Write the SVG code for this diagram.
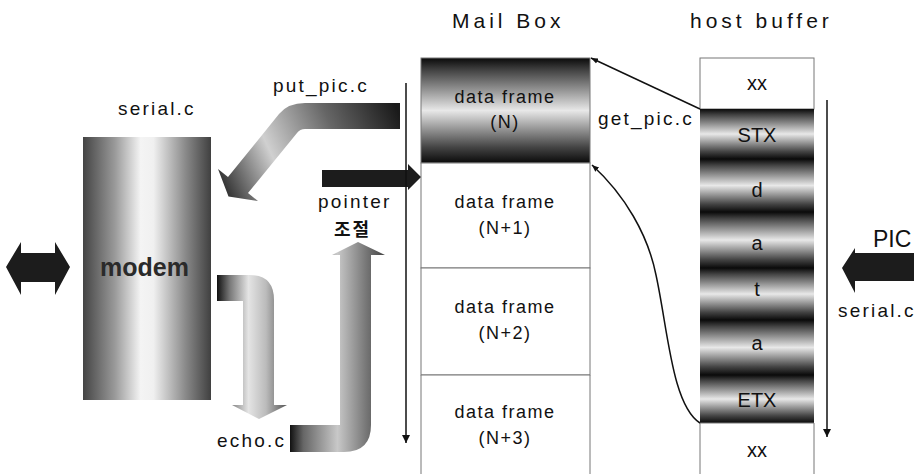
<svg xmlns="http://www.w3.org/2000/svg" width="914" height="474" viewBox="0 0 914 474">
<defs>
<linearGradient id="band" x1="0" y1="0" x2="0" y2="1">
<stop offset="0" stop-color="#0a0a0a"/>
<stop offset="0.12" stop-color="#444"/>
<stop offset="0.5" stop-color="#e8e8e8"/>
<stop offset="0.85" stop-color="#444"/>
<stop offset="1" stop-color="#0a0a0a"/>
</linearGradient>
<linearGradient id="cyl" x1="0" y1="0" x2="1" y2="0">
<stop offset="0" stop-color="#444"/>
<stop offset="0.25" stop-color="#9a9a9a"/>
<stop offset="0.45" stop-color="#f4f4f4"/>
<stop offset="0.55" stop-color="#f0f0f0"/>
<stop offset="0.8" stop-color="#8a8a8a"/>
<stop offset="1" stop-color="#404040"/>
</linearGradient>
<linearGradient id="gPut" gradientUnits="userSpaceOnUse" x1="400" y1="116" x2="228" y2="196">
<stop offset="0" stop-color="#1a1a1a"/>
<stop offset="0.35" stop-color="#666"/>
<stop offset="0.7" stop-color="#d0d0d0"/>
<stop offset="1" stop-color="#333"/>
</linearGradient>
<linearGradient id="gEcho" gradientUnits="userSpaceOnUse" x1="217" y1="0" x2="287" y2="0">
<stop offset="0" stop-color="#111"/>
<stop offset="0.18" stop-color="#777"/>
<stop offset="0.45" stop-color="#e4e4e4"/>
<stop offset="0.7" stop-color="#bbb"/>
<stop offset="1" stop-color="#555"/>
</linearGradient>
<linearGradient id="gJ" gradientUnits="userSpaceOnUse" x1="290" y1="0" x2="385" y2="0">
<stop offset="0" stop-color="#111"/>
<stop offset="0.14" stop-color="#666"/>
<stop offset="0.5" stop-color="#c8c8c8"/>
<stop offset="0.8" stop-color="#777"/>
<stop offset="1" stop-color="#444"/>
</linearGradient>
<marker id="ah" viewBox="0 0 10 10" refX="10" refY="5" markerWidth="7" markerHeight="7" orient="auto" markerUnits="userSpaceOnUse">
<path d="M0,1 L10,5 L0,9 Z" fill="#111"/>
</marker>
<marker id="ahv" viewBox="0 0 10 10" refX="10" refY="5" markerWidth="8" markerHeight="12" orient="auto" markerUnits="userSpaceOnUse">
<path d="M0,0 L10,5 L0,10 Z" fill="#111"/>
</marker>
</defs>
<style>
text{font-family:"Liberation Sans",Arial,sans-serif;fill:#111}
.title{font-size:21px;letter-spacing:4px}
.lbl{font-size:19px;letter-spacing:2.2px}
.df{font-size:18px;letter-spacing:1.5px;text-anchor:middle}
.cell{font-size:20px;text-anchor:middle}
.box{stroke:#777;stroke-width:1}
.dark{fill:#1c1c1c}
.line{stroke:#111;stroke-width:1.5;fill:none}
</style>
<rect width="914" height="474" fill="#fff"/>

<text class="title" x="452" y="28">Mail Box</text>
<text class="title" x="690" y="28">host buffer</text>

<g id="mailbox">
<rect x="421" y="58" width="169" height="105" fill="url(#band)" class="box"/>
<rect x="421" y="163" width="169" height="105" fill="#fff" class="box"/>
<rect x="421" y="268" width="169" height="107" fill="#fff" class="box"/>
<path d="M421,474 L421,375 L590,375 L590,474" fill="#fff" class="box"/>
<text class="df" x="505" y="103">data frame</text>
<text class="df" x="505" y="128">(N)</text>
<text class="df" x="505" y="208">data frame</text>
<text class="df" x="505" y="234">(N+1)</text>
<text class="df" x="505" y="313">data frame</text>
<text class="df" x="505" y="339">(N+2)</text>
<text class="df" x="505" y="418">data frame</text>
<text class="df" x="505" y="444">(N+3)</text>
</g>

<g id="hostbuffer">
<rect x="700" y="58" width="114" height="51" fill="#fff" class="box"/>
<rect x="700" y="109" width="114" height="50" fill="url(#band)"/>
<rect x="700" y="159" width="114" height="53" fill="url(#band)"/>
<rect x="700" y="212" width="114" height="56" fill="url(#band)"/>
<rect x="700" y="268" width="114" height="52" fill="url(#band)"/>
<rect x="700" y="320" width="114" height="55" fill="url(#band)"/>
<rect x="700" y="375" width="114" height="48" fill="url(#band)"/>
<path d="M700,474 L700,423 L814,423 L814,474" fill="#fff" class="box"/>
<text class="cell" x="757" y="90">xx</text>
<text class="cell" x="757" y="142">STX</text>
<text class="cell" x="757" y="197">d</text>
<text class="cell" x="757" y="250">a</text>
<text class="cell" x="757" y="296">t</text>
<text class="cell" x="757" y="350">a</text>
<text class="cell" x="757" y="407">ETX</text>
<text class="cell" x="757" y="457">xx</text>
</g>

<g id="modem">
<rect x="83" y="137" width="128" height="263" fill="url(#cyl)"/>
<text x="100" y="276" style="font-size:25px;font-weight:bold;fill:#2a2a2a">modem</text>
</g>

<g id="labels">
<text class="lbl" x="118" y="115">serial.c</text>
<text class="lbl" x="273" y="92">put_pic.c</text>
<text class="lbl" x="598" y="125">get_pic.c</text>
<text class="lbl" x="318" y="208">pointer</text>
<text x="334" y="236" style="font-family:'Noto Sans CJK KR','Liberation Sans',sans-serif;font-size:18px;font-weight:bold;letter-spacing:2px">조절</text>
<text class="lbl" x="217" y="447">echo.c</text>
<text x="873" y="247" style="font-size:23px">PIC</text>
<text class="lbl" x="838" y="317">serial.c</text>
</g>

<g id="connectors">
<path id="put-arrow" d="M400,103 L305,103 Q288,103 279,114 L228,177 L218,169 L228.5,196.5 L258,201 L248,193 L297,133 Q300,129 305,129 L400,129 Z" fill="url(#gPut)"/>
<path id="pointer-arrow" class="dark" d="M322,170 L408,170 L408,164 L421,177 L408,190 L408,187 L322,187 Z"/>
<path id="echo-arrow" d="M217,275 L250,275 Q274,275 274,300 L274,405 L287,405 L259,419 L232,405 L243,405 L243,301 L217,301 Z" fill="url(#gEcho)"/>
<path id="return-arrow" d="M290,425 L340,425 L340,255 L332,255 L358,242 L385,255 L371,255 L371,425 Q371,452 344,452 L290,452 Z" fill="url(#gJ)"/>
<path id="modem-io" class="dark" d="M6,267 L21,242 L21,253 L55,253 L55,242 L70,267 L55,295 L55,282 L21,282 L21,295 Z"/>
<path id="pic-in" class="dark" d="M842,268 L855,248 L855,253 L914,253 L914,281 L855,281 L855,293 Z"/>
<line class="line" x1="406" y1="83" x2="406" y2="443" marker-end="url(#ahv)"/>
<line class="line" x1="827" y1="100" x2="827" y2="437" marker-end="url(#ahv)"/>
<line class="line" x1="700" y1="109" x2="591" y2="58" marker-end="url(#ah)"/>
<path class="line" d="M700,423 C672,405 668,330 656,275 C648,235 625,195 592,165" marker-end="url(#ah)"/>
</g>
</svg>
